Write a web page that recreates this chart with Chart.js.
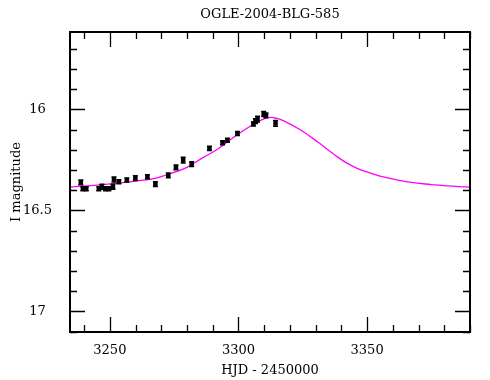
<!DOCTYPE html>
<html>
<head>
<meta charset="utf-8">
<script src="https://cdn.jsdelivr.net/npm/chart.js@4"></script>
<style>
  html, body { margin: 0; padding: 0; background: #fff; }
  #wrap { width: 490px; height: 380px; }
</style>
</head>
<body>
<div id="wrap"><canvas id="myChart"></canvas></div>
<script>
// OGLE photometry (HJD - 2450000, I mag, error)
const hjd = [3238.7, 3239.5, 3240.8, 3245.7, 3246.9, 3248.3, 3249.6, 3251.2, 3251.6, 3253.5,
  3256.6, 3259.9, 3264.6, 3267.7, 3272.7, 3275.7, 3278.5, 3281.8, 3288.7, 3293.8,
  3295.7, 3299.6, 3305.8, 3306.6, 3307.4, 3309.8, 3310.7, 3314.4];
const mag = [16.361, 16.393, 16.393, 16.393, 16.383, 16.393, 16.393, 16.383, 16.347, 16.358,
  16.350, 16.340, 16.334, 16.370, 16.327, 16.287, 16.251, 16.271, 16.193, 16.165,
  16.153, 16.119, 16.072, 16.058, 16.048, 16.023, 16.030, 16.069];
const magErr = [0.012, 0.010, 0.010, 0.010, 0.012, 0.010, 0.010, 0.012, 0.012, 0.010,
  0.010, 0.012, 0.010, 0.012, 0.012, 0.012, 0.014, 0.012, 0.010, 0.010,
  0.010, 0.010, 0.010, 0.012, 0.014, 0.012, 0.012, 0.014];

// model curve
const modelHjd = [3234, 3241, 3247, 3254, 3260, 3267, 3273, 3280, 3286, 3292,
  3298, 3305, 3309, 3312, 3315, 3318, 3324, 3331, 3336, 3339,
  3342, 3345.5, 3349, 3355, 3362, 3368, 3375, 3381, 3388, 3391];
const modelMag = [16.384, 16.379, 16.373, 16.364, 16.355, 16.343, 16.320, 16.287, 16.240, 16.196,
  16.139, 16.080, 16.052, 16.040, 16.045, 16.059, 16.101, 16.163, 16.212, 16.240,
  16.265, 16.288, 16.306, 16.330, 16.350, 16.363, 16.372, 16.379, 16.384, 16.386];

const xLabels = [3250, 3300, 3350];
const yLabels = [16, 16.5, 17];

Chart.defaults.font.family = "'DejaVu Serif', serif";
Chart.defaults.font.size = 13;
Chart.defaults.color = "#000";

const errorBars = {
  id: "errorBars",
  afterDatasetsDraw(chart) {
    const xs = chart.scales.x, ys = chart.scales.y, ctx = chart.ctx;
    ctx.save();
    ctx.strokeStyle = "#000";
    ctx.lineWidth = 1.5;
    hjd.forEach((t, i) => {
      const px = xs.getPixelForValue(t);
      const y1 = ys.getPixelForValue(mag[i] - magErr[i]);
      const y2 = ys.getPixelForValue(mag[i] + magErr[i]);
      ctx.beginPath();
      ctx.moveTo(px, y1); ctx.lineTo(px, y2);
      ctx.moveTo(px - 2.5, y1); ctx.lineTo(px + 2.5, y1);
      ctx.moveTo(px - 2.5, y2); ctx.lineTo(px + 2.5, y2);
      ctx.stroke();
    });
    ctx.restore();
  }
};

// box with inward ticks on all four sides
const frame = {
  id: "frame",
  afterDraw(chart) {
    const { left, right, top, bottom } = chart.chartArea;
    const ctx = chart.ctx;
    ctx.save();
    ctx.strokeStyle = "#000";
    ctx.lineWidth = 1.3;
    ctx.beginPath();
    chart.scales.x.ticks.forEach(t => {
      const px = Math.round(chart.scales.x.getPixelForValue(t.value)) + 0.5;
      const len = Math.round(t.value) % 50 === 0 ? 15 : 7;
      ctx.moveTo(px, bottom); ctx.lineTo(px, bottom - len);
      ctx.moveTo(px, top); ctx.lineTo(px, top + len);
    });
    chart.scales.y.ticks.forEach(t => {
      const py = Math.round(chart.scales.y.getPixelForValue(t.value)) + 0.5;
      const len = Math.round(t.value * 10) % 5 === 0 ? 15 : 7;
      ctx.moveTo(left, py); ctx.lineTo(left + len, py);
      ctx.moveTo(right, py); ctx.lineTo(right - len, py);
    });
    ctx.stroke();
    ctx.lineWidth = 2;
    ctx.strokeRect(left, top, right - left, bottom - top);
    ctx.restore();
  }
};

new Chart(document.getElementById("myChart").getContext("2d"), {
  type: "scatter",
  data: {
    datasets: [
      {
        data: hjd.map((t, i) => ({ x: t, y: mag[i] })),
        pointStyle: "rect",
        pointRadius: 3.2,
        backgroundColor: "#000",
        borderColor: "#000",
        borderWidth: 0
      },
      {
        data: modelHjd.map((t, i) => ({ x: t, y: modelMag[i] })),
        showLine: true,
        pointRadius: 0,
        borderColor: "#ff00ff",
        borderWidth: 1.3,
        tension: 0.4
      }
    ]
  },
  options: {
    responsive: true,
    maintainAspectRatio: false,
    animation: false,
    devicePixelRatio: 1,
    layout: { padding: { left: 0, right: 20, top: 0, bottom: 0 } },
    plugins: {
      legend: { display: false },
      tooltip: { enabled: false },
      title: {
        display: true,
        text: "OGLE-2004-BLG-585",
        fullSize: false,
        font: { size: 13, weight: "normal" },
        padding: { top: 7, bottom: 9.4 }
      }
    },
    scales: {
      x: {
        type: "linear",
        min: 3234.5,
        max: 3390,
        grid: { display: false },
        border: { display: false },
        ticks: {
          stepSize: 10,
          autoSkip: false,
          includeBounds: false,
          maxRotation: 0,
          padding: 3,
          callback: v => xLabels.includes(Math.round(v)) ? String(Math.round(v)) : ""
        },
        title: { display: true, text: "HJD - 2450000", padding: { top: 0, bottom: 1.2 } },
        afterFit: s => { s.height = 48; }
      },
      y: {
        type: "linear",
        reverse: true,
        min: 15.617,
        max: 17.102,
        grid: { display: false },
        border: { display: false },
        ticks: {
          stepSize: 0.1,
          autoSkip: false,
          includeBounds: false,
          crossAlign: "center",
          padding: 10,
          callback: v => {
            const r = Math.round(v * 10) / 10;
            return yLabels.includes(r) ? String(r) : "";
          }
        },
        title: { display: true, text: "I magnitude", padding: { top: 9, bottom: 0 } },
        afterFit: s => { s.width = 70; }
      }
    }
  },
  plugins: [errorBars, frame]
});
</script>
</body>
</html>
